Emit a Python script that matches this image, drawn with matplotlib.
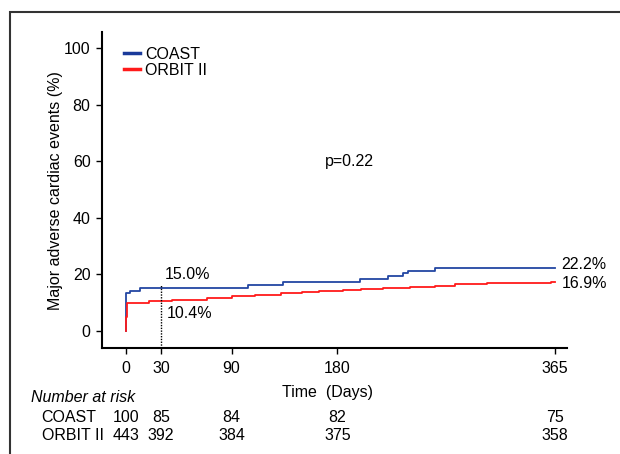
import matplotlib
matplotlib.use("Agg")
import matplotlib.pyplot as plt
from matplotlib.patches import Rectangle
from matplotlib.transforms import blended_transform_factory

plt.rcParams['font.family'] = ['Liberation Sans', 'DejaVu Sans']
plt.rcParams['font.size'] = 11.5

# cumulative MACE (%)
coast_days = [0, 0, 4, 12, 104, 134, 199, 223, 236, 240, 263, 365]
coast_pct = [0, 13.2, 14.1, 15.0, 16.2, 17.1, 18.4, 19.3, 20.3, 21.2, 22.2, 22.2]
orbit_days = [0, 0, 1, 20, 39, 69, 90, 110, 132, 150, 164, 185, 200, 219, 242, 263, 280, 307, 362, 365]
orbit_pct = [0, 5.0, 9.9, 10.4, 10.9, 11.6, 12.3, 12.7, 13.2, 13.6, 14.0, 14.4, 14.7, 15.0, 15.5, 15.9, 16.4, 16.9, 17.2, 17.2]

# number at risk
risk_days = [0, 30, 90, 180, 365]
coast_risk = [100, 85, 84, 82, 75]
orbit_risk = [443, 392, 384, 375, 358]

fig = plt.figure(figsize=(6.2, 4.54), dpi=100)
ax = fig.add_axes([0.164, 0.2328, 0.7505, 0.6967])

blue = '#2346a3'
red = '#ff1a1a'
ax.step(coast_days, coast_pct, where='post', color=blue, lw=1.3, label='COAST')
ax.step(orbit_days, orbit_pct, where='post', color=red, lw=1.3, label='ORBIT II')

# 30-day marker
ax.plot([30, 30], [-6.2, 16.2], color='black', lw=1, ls=(0, (1, 1)))

ax.text(33.5, 20.0, '15.0%', va='center', ha='left')
ax.text(34.5, 6.1, '10.4%', va='center', ha='left')
ax.text(370.5, 23.6, '22.2%', va='center', ha='left')
ax.text(370.5, 16.8, '16.9%', va='center', ha='left')
ax.text(190, 60, 'p=0.22', va='center', ha='center')

ax.set_xlim(-20.4, 375.2)
ax.set_ylim(-6.2, 105.7)
ax.set_xticks(risk_days)
ax.set_yticks([0, 20, 40, 60, 80, 100])
ax.tick_params(direction='out', length=4, width=1)
ax.tick_params(axis='x', pad=5)
ax.tick_params(axis='y', pad=4)
for s in ['top', 'right']:
    ax.spines[s].set_visible(False)
for s in ['left', 'bottom']:
    ax.spines[s].set_linewidth(1.5)
ax.set_ylabel('Major adverse cardiac events (%)', labelpad=1)

leg = ax.legend(loc='upper left', bbox_to_anchor=(124 / 620, 1 - 47 / 454),
                bbox_transform=fig.transFigure, frameon=False, borderpad=0,
                borderaxespad=0, handlelength=1.0, handletextpad=0.3,
                labelspacing=0.05)
for h in leg.get_lines():
    h.set_linewidth(2.5)
leg.get_lines()[0].set_color('#1a3a9a')

fig.text(328 / 620, 1 - 392 / 454, 'Time  (Days)', ha='center', va='center')

# number at risk table
tr = blended_transform_factory(ax.transData, fig.transFigure)
fig.text(31 / 620, 1 - 398 / 454, 'Number at risk', style='italic', va='center')
fig.text(41 / 620, 1 - 417 / 454, 'COAST', va='center')
fig.text(42 / 620, 1 - 435 / 454, 'ORBIT II', va='center')
for d, c, o in zip(risk_days, coast_risk, orbit_risk):
    ax.text(d, 1 - 417 / 454, str(c), transform=tr, ha='center', va='center')
    ax.text(d, 1 - 435 / 454, str(o), transform=tr, ha='center', va='center')

# outer frame
fig.patches.append(Rectangle((10 / 620, -0.2), 1.2, 1.2 - 12 / 454,
                             transform=fig.transFigure, fill=False,
                             edgecolor='#333333', lw=1.5))

fig.savefig('out.png', dpi=100)
